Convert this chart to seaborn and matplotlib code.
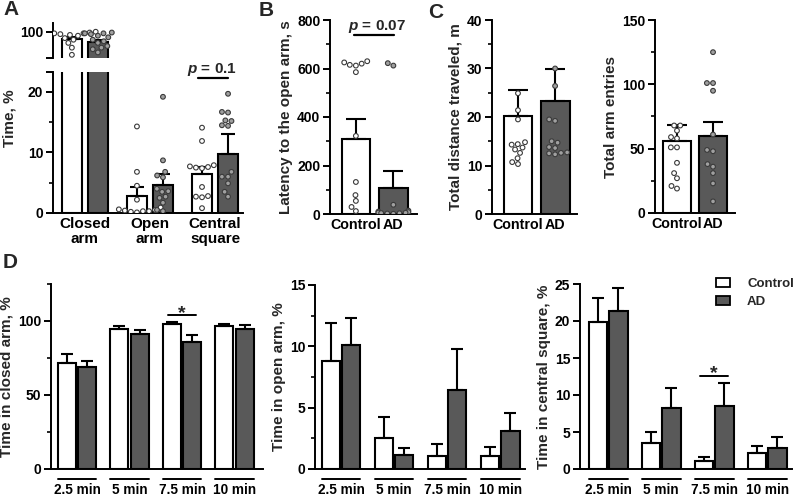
import numpy as np
import pandas as pd
import matplotlib
matplotlib.use("Agg")
import matplotlib.pyplot as plt
import seaborn as sns
from matplotlib.patches import Patch
from matplotlib.ticker import FixedLocator, MultipleLocator

sns.set_style("ticks")
plt.rcParams["font.family"] = ["Liberation Sans", "DejaVu Sans"]
plt.rcParams["font.weight"] = "bold"
plt.rcParams["axes.labelweight"] = "bold"
plt.rcParams["mathtext.fontset"] = "custom"
plt.rcParams["mathtext.it"] = "Liberation Sans:bold:italic"
plt.rcParams["mathtext.rm"] = "Liberation Sans:bold"

# ---------------- data ----------------
groups = ["Control", "AD"]
zones = ["Closed\narm", "Open\narm", "Central\nsquare"]

# Panel A (time in zones, %): means, SEM, individual animals
a_mean_ctrl = [91.0, 2.8, 6.4]
a_sem_ctrl = [2.2, 1.5, 1.2]
a_mean_ad = [86.5, 4.6, 9.7]
a_sem_ad = [2.8, 1.8, 3.4]
closed_ctrl = [100, 99, 99, 98, 98, 97, 96, 95, 92, 90, 86, 80, 71]
closed_ad = [99, 98, 98, 97, 95, 93, 90, 88, 86, 82, 80, 78, 74]
open_ctrl = [14.3, 6.8, 4.5, 2.2, 0.9, 0.6, 0.4, 0.3, 0.2, 0.1, 0.5, 0.3]
open_ad = [19.2, 8.7, 6.8, 6.2, 5.9, 4.0, 3.6, 3.5, 2.7, 2.5, 1.7, 0.5, 0.3]
central_ctrl = [14.1, 11.9, 7.9, 7.7, 7.6, 7.5, 7.4, 4.3, 2.8, 2.7, 2.6, 0.8]
central_ad = [19.7, 16.7, 16.6, 15.3, 15.2, 14.5, 14.4, 6.8, 6.0, 6.0, 4.9, 3.5, 2.7]

# Panel B (latency to open arm, s)
b_mean = [309, 107]
b_sem = [83, 70]
b_ctrl = [630, 625, 620, 615, 612, 585, 322, 132, 78, 54, 29, 12]
b_ad = [622, 612, 38, 14, 10, 8, 6, 5, 4, 3, 2, 1]

# Panel C (distance, m; arm entries)
c1_mean = [20.2, 23.2]
c1_sem = [5.4, 6.7]
c1_ctrl = [24.9, 21.4, 19.5, 14.8, 14.4, 14.3, 13.7, 13.3, 12.6, 11.5, 10.7, 10.3]
c1_ad = [30.0, 26.4, 19.5, 19.2, 15.0, 14.7, 13.8, 13.6, 12.7, 12.5, 12.6, 12.3]
c2_mean = [56.0, 59.5]
c2_sem = [12.6, 11.0]
c2_ctrl = [68, 68, 64, 59, 58, 51, 51, 39, 31, 27, 21, 19]
c2_ad = [125, 101, 101, 95, 61, 49, 48, 38, 36, 31, 23, 9]

# Panel D (time bins)
time_labels = ["2.5 min", "5 min", "7.5 min", "10 min"]
d_closed_ctrl = [71.8, 94.4, 98.0, 96.8]
d_closed_ctrl_sem = [5.7, 2.2, 1.0, 1.1]
d_closed_ad = [68.7, 91.2, 85.6, 94.4]
d_closed_ad_sem = [4.5, 2.7, 4.7, 2.9]
d_open_ctrl = [8.8, 2.5, 1.1, 1.1]
d_open_ctrl_sem = [3.1, 1.7, 0.95, 0.7]
d_open_ad = [10.1, 1.15, 6.4, 3.1]
d_open_ad_sem = [2.2, 0.6, 3.4, 1.5]
d_central_ctrl = [19.8, 3.5, 1.1, 2.2]
d_central_ctrl_sem = [3.3, 1.45, 0.5, 0.9]
d_central_ad = [21.4, 8.2, 8.5, 2.8]
d_central_ad_sem = [3.1, 2.8, 3.1, 1.5]

# ---------------- styling ----------------
BAR_PAL = {"Control": "white", "AD": "#595959"}
PT_PAL = {"Control": "white", "AD": "#a0a0a0"}
PT_EDGE = "#3a3a3a"

W, H = 796, 496
fig = plt.figure(figsize=(W / 100, H / 100), dpi=100)


def add_ax(l, t, r, b):
    return fig.add_axes([l / W, 1 - b / H, (r - l) / W, (b - t) / H])


def style(ax, ytick_fs=10, xtick_fs=11):
    sns.despine(ax=ax)
    for s in ["left", "bottom"]:
        ax.spines[s].set_linewidth(1.4)
        ax.spines[s].set_color("black")
    ax.tick_params(axis="y", which="major", length=5, width=1.4, labelsize=ytick_fs,
                   color="black", labelcolor="black", direction="out", pad=2)
    ax.tick_params(axis="y", which="minor", length=3, width=1.2, color="black", direction="out")
    ax.tick_params(axis="x", length=0, labelsize=xtick_fs, labelcolor="black", pad=3)
    ax.set_xlabel("")
    ax.set_facecolor("white")


def draw_bars(ax, df, cat, order, sems, width, gap, capsize):
    sns.barplot(data=df, x=cat, y="val", hue="group", order=order, hue_order=groups,
                palette=BAR_PAL, edgecolor="black", linewidth=1.5, width=width, gap=gap,
                errorbar=None, legend=False, saturation=1, ax=ax)
    centers = {}
    for g, cont, sem in zip(groups, ax.containers, sems):
        xs = [p.get_x() + p.get_width() / 2 for p in cont]
        hs = [p.get_height() for p in cont]
        ax.errorbar(xs, hs, yerr=[np.zeros(len(hs)), sem], fmt="none", ecolor="black",
                    elinewidth=1.5, capsize=capsize, capthick=1.5, zorder=3)
        centers[g] = (xs, [p.get_x() for p in cont], [p.get_x() + p.get_width() for p in cont])
    return centers


def draw_points(ax, df, cat, order, dodge):
    sns.swarmplot(data=df, x=cat, y="val", hue="group", order=order, hue_order=groups,
                  dodge=dodge, palette=PT_PAL, edgecolor=PT_EDGE, linewidth=0.8, size=3.4,
                  legend=False, warn_thresh=1, zorder=4, ax=ax)


# ---------------- Panel A (broken axis) ----------------
ax_au = add_ax(53, 23, 243, 58)
ax_al = add_ax(53, 72, 243, 213)

a_bars = pd.DataFrame({
    "zone": zones * 2,
    "group": ["Control"] * 3 + ["AD"] * 3,
    "val": a_mean_ctrl + a_mean_ad,
})
a_pts = pd.DataFrame({
    "zone": [zones[0]] * len(closed_ctrl) + [zones[1]] * len(open_ctrl) + [zones[2]] * len(central_ctrl)
            + [zones[0]] * len(closed_ad) + [zones[1]] * len(open_ad) + [zones[2]] * len(central_ad),
    "group": ["Control"] * (len(closed_ctrl) + len(open_ctrl) + len(central_ctrl))
             + ["AD"] * (len(closed_ad) + len(open_ad) + len(central_ad)),
    "val": closed_ctrl + open_ctrl + central_ctrl + closed_ad + open_ad + central_ad,
})

for ax, ylim in [(ax_au, (67, 111)), (ax_al, (0, 23.3))]:
    cA = draw_bars(ax, a_bars, "zone", zones, [a_sem_ctrl, a_sem_ad], 0.8, 0.245, 5)
    ax.set_ylim(*ylim)
    ax.set_xlim(-0.49, 2.43)
    draw_points(ax, a_pts, "zone", zones, True)
    ax.set_ylim(*ylim)
    ax.set_xlim(-0.49, 2.43)
    style(ax)

ax_au.spines["bottom"].set_visible(False)
ax_au.tick_params(axis="x", bottom=False, labelbottom=False)
ax_au.yaxis.set_major_locator(FixedLocator([67, 100]))
ax_au.set_yticklabels(["", "100"])
ax_au.set_ylabel("")

ax_al.yaxis.set_major_locator(FixedLocator([0, 10, 20, 23.3]))
ax_al.set_yticklabels(["0", "10", "20", ""])
ax_al.yaxis.set_minor_locator(FixedLocator([5, 15]))
ax_al.set_ylabel("Time, %", fontsize=11)
ax_al.yaxis.set_label_coords(-0.19, 0.67)
for lab in ax_al.get_xticklabels():
    lab.set_linespacing(1.1)

xc_ctrl = cA["Control"][0][2]
xc_ad = cA["AD"][0][2]
ax_al.plot([xc_ctrl - 0.06, xc_ad], [22.3, 22.3], color="black", lw=1.6, clip_on=False)
ax_al.text((xc_ctrl + xc_ad) / 2 - 0.05, 23.2, "$p$ = 0.1", ha="center", va="baseline",
           fontsize=11, clip_on=False)

# ---------------- Panel B ----------------
ax_b = add_ax(330, 20, 417, 214)
b_bars = pd.DataFrame({"g": groups, "group": groups, "val": b_mean})
b_pts = pd.DataFrame({"g": ["Control"] * len(b_ctrl) + ["AD"] * len(b_ad),
                      "group": ["Control"] * len(b_ctrl) + ["AD"] * len(b_ad),
                      "val": b_ctrl + b_ad})
cB = draw_bars(ax_b, b_bars, "g", groups, [[b_sem[0]], [b_sem[1]]], 0.76, 0, 7)
ax_b.set_ylim(0, 800)
ax_b.set_xlim(-0.69, 1.63)
draw_points(ax_b, b_pts, "g", groups, False)
ax_b.set_ylim(0, 800)
ax_b.set_xlim(-0.69, 1.63)
style(ax_b, xtick_fs=10.3)
ax_b.yaxis.set_major_locator(MultipleLocator(200))
ax_b.yaxis.set_minor_locator(MultipleLocator(100))
ax_b.set_ylabel("Latency to the open arm, s", fontsize=11, labelpad=3)
ax_b.plot([-0.05, 1.01], [738, 738], color="black", lw=1.6, clip_on=False)
ax_b.text(0.56, 758, "$p$ = 0.07", ha="center", va="baseline", fontsize=11, clip_on=False)

# ---------------- Panel C ----------------
ax_c1 = add_ax(492, 20, 577, 214)
ax_c2 = add_ax(655, 20, 735, 213)
for ax, means, sems, pc, pa, ylim, xlim, major, minor, ylab in [
    (ax_c1, c1_mean, c1_sem, c1_ctrl, c1_ad, (0, 40), (-0.70, 1.59), 10, 5, "Total distance traveled, m"),
    (ax_c2, c2_mean, c2_sem, c2_ctrl, c2_ad, (0, 150), (-0.61, 1.61), 50, 25, "Total arm entries"),
]:
    bars_df = pd.DataFrame({"g": groups, "group": groups, "val": means})
    pts_df = pd.DataFrame({"g": ["Control"] * len(pc) + ["AD"] * len(pa),
                           "group": ["Control"] * len(pc) + ["AD"] * len(pa),
                           "val": pc + pa})
    draw_bars(ax, bars_df, "g", groups, [[sems[0]], [sems[1]]], 0.78, 0, 7)
    ax.set_ylim(*ylim)
    ax.set_xlim(*xlim)
    draw_points(ax, pts_df, "g", groups, False)
    ax.set_ylim(*ylim)
    ax.set_xlim(*xlim)
    style(ax, xtick_fs=10.3)
    ax.yaxis.set_major_locator(MultipleLocator(major))
    ax.yaxis.set_minor_locator(MultipleLocator(minor))
    ax.set_ylabel(ylab, fontsize=11, labelpad=3)

# ---------------- Panel D ----------------
d_specs = [
    (add_ax(51, 284, 263, 469), d_closed_ctrl, d_closed_ad, d_closed_ctrl_sem, d_closed_ad_sem,
     (0, 125), (-0.495, 3.54), 50, 25, "Time in closed arm, %", (104, 2)),
    (add_ax(315, 285, 525, 469), d_open_ctrl, d_open_ad, d_open_ctrl_sem, d_open_ad_sem,
     (0, 15), (-0.49, 3.47), 5, 2.5, "Time in open arm, %", None),
    (add_ax(580, 284, 792, 469), d_central_ctrl, d_central_ad, d_central_ctrl_sem, d_central_ad_sem,
     (0, 25), (-0.53, 3.47), 5, None, "Time in central square, %", (12.6, 2)),
]
for ax, mc, ma, sc, sa, ylim, xlim, major, minor, ylab, sig in d_specs:
    df = pd.DataFrame({"time": time_labels * 2,
                       "group": ["Control"] * 4 + ["AD"] * 4,
                       "val": mc + ma})
    cD = draw_bars(ax, df, "time", time_labels, [sc, sa], 0.78, 0.12, 4.5)
    ax.set_ylim(*ylim)
    ax.set_xlim(*xlim)
    style(ax, ytick_fs=10, xtick_fs=9.8)
    ax.tick_params(axis="x", pad=10)
    ax.yaxis.set_major_locator(MultipleLocator(major))
    if minor:
        ax.yaxis.set_minor_locator(MultipleLocator(minor))
    ax.set_ylabel(ylab, fontsize=11, labelpad=3)
    tr = ax.get_xaxis_transform()
    for i in range(len(time_labels)):
        x0 = cD["Control"][1][i]
        x1 = cD["AD"][2][i]
        ax.plot([x0, x1], [-0.054, -0.054], color="black", lw=1.4, transform=tr, clip_on=False)
    if sig is not None:
        yv, gi = sig
        ax.plot([gi - 0.27, gi + 0.27], [yv, yv], color="black", lw=1.4, clip_on=False)
        ax.annotate("*", xy=(gi, yv), xytext=(0, -2), textcoords="offset points",
                    ha="center", va="baseline", fontsize=14)

ax_d3 = d_specs[2][0]
ax_d3.legend(handles=[Patch(facecolor="white", edgecolor="black", linewidth=1.3, label="Control"),
                      Patch(facecolor="#595959", edgecolor="black", linewidth=1.3, label="AD")],
             loc="upper left", bbox_to_anchor=(716 / W, 1 - 278 / H), bbox_transform=fig.transFigure,
             frameon=False, fontsize=9.5, handlelength=1.05, handleheight=0.7,
             handletextpad=1.3, labelspacing=0.4, borderpad=0, borderaxespad=0)

# ---------------- panel letters ----------------
for txt, x, y in [("A", 3, 0), ("B", 259, 1), ("C", 428, 3), ("D", 3, 253)]:
    fig.text(x / W, 1 - y / H, txt, ha="left", va="top", fontsize=15, fontweight="bold")

fig.savefig("out.png", dpi=100, facecolor="white")
